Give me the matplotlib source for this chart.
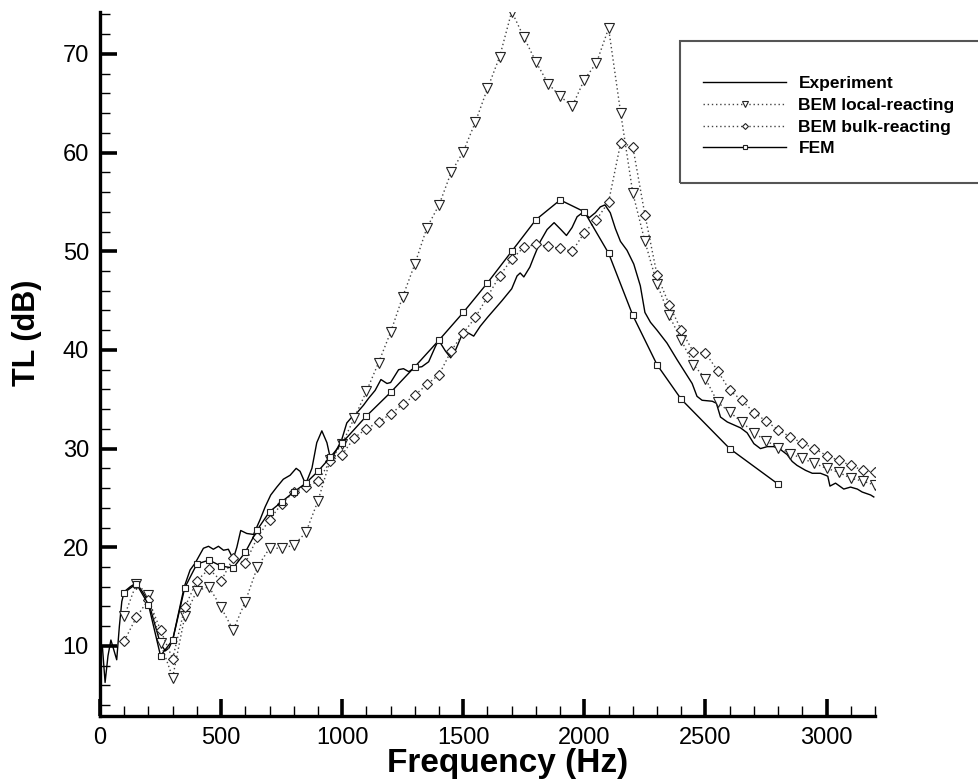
import matplotlib
matplotlib.use("Agg")
import matplotlib.pyplot as plt
from matplotlib.patches import Rectangle
from matplotlib.ticker import MultipleLocator

plt.rcParams['font.family'] = ['Liberation Sans', 'DejaVu Sans']

# measured curve (experiment)
f_exp = [10, 21, 33, 45, 57, 69, 80, 90, 100, 125, 150, 175, 200, 225, 250, 270, 285, 300,
         324, 348, 372, 393, 427, 448, 468, 489, 510, 530, 550, 565, 581, 606, 634, 661,
         682, 705, 730, 757, 785, 810, 826, 849, 875, 895, 916, 937, 953, 975, 998, 1019,
         1040, 1060, 1088, 1109, 1136, 1160, 1185, 1200, 1233, 1253, 1275, 1300, 1329,
         1357, 1384, 1398, 1426, 1448, 1470, 1494, 1522, 1543, 1570, 1600, 1632, 1660,
         1700, 1722, 1735, 1750, 1775, 1791, 1818, 1846, 1875, 1903, 1926, 1949, 1970,
         1997, 2020, 2045, 2066, 2085, 2107, 2128, 2149, 2176, 2204, 2231, 2250, 2273,
         2300, 2341, 2383, 2424, 2445, 2465, 2486, 2528, 2545, 2562, 2590, 2617, 2645,
         2672, 2700, 2727, 2755, 2782, 2810, 2837, 2858, 2878, 2913, 2941, 2975, 2996,
         3005, 3014, 3037, 3071, 3099, 3127, 3147, 3182, 3195]
tl_exp = [9.9, 6.3, 9.0, 10.6, 9.6, 8.6, 12.0, 14.5, 15.5, 16.0, 16.4, 15.5, 14.5, 12.3, 10.2,
          9.5, 9.8, 10.6, 13.3, 16.0, 17.7, 18.4, 19.9, 20.1, 19.8, 20.1, 19.7, 19.8, 18.8,
          20.0, 21.7, 21.4, 21.3, 22.8, 24.1, 25.3, 26.1, 26.9, 27.3, 28.0, 27.7, 26.4, 28.0,
          30.6, 31.8, 30.6, 28.8, 29.8, 30.9, 32.6, 33.2, 33.6, 34.4, 35.1, 35.9, 37.0, 36.6,
          36.7, 38.0, 38.1, 37.8, 38.2, 38.3, 38.8, 40.3, 41.0, 39.9, 39.2, 40.1, 41.5, 41.7,
          41.4, 42.4, 43.3, 44.2, 45.0, 46.2, 47.5, 47.8, 47.4, 48.4, 49.4, 51.0, 52.2, 52.9,
          52.2, 51.6, 52.4, 53.5, 54.0, 53.4, 53.9, 54.5, 54.7, 53.9, 52.3, 51.0, 50.1, 48.7,
          46.5, 43.8, 42.8, 42.0, 40.7, 39.0, 37.4, 36.6, 35.3, 34.9, 34.8, 34.6, 33.2, 32.7,
          32.4, 32.1, 31.6, 30.5, 30.0, 30.2, 30.2, 29.9, 29.4, 28.7, 28.3, 27.8, 27.5, 27.5,
          27.3, 27.2, 26.2, 26.5, 25.9, 26.1, 25.9, 25.6, 25.3, 25.1]

# BEM results, 50 Hz steps from 100 to 3200 Hz
f_bem = list(range(100, 3201, 50))
tl_local = [13.0, 16.3, 15.2, 10.3, 6.8, 13.0, 15.6, 16.0, 13.9, 11.6, 14.5, 18.0, 19.9, 19.9,
            20.2, 21.5, 24.7, 28.8, 30.5, 33.1, 35.8, 38.7, 41.8, 45.4, 48.7, 52.4, 54.7, 58.0,
            60.1, 63.1, 66.5, 69.7, 74.3, 71.7, 69.2, 67.0, 65.7, 64.7, 67.4, 69.1, 72.6, 64.0,
            55.9, 51.0, 46.7, 43.5, 41.0, 38.5, 37.1, 34.7, 33.7, 32.7, 31.6, 30.8, 30.1, 29.5,
            29.0, 28.5, 28.0, 27.6, 27.0, 26.7, 26.3]
tl_bulk = [10.5, 12.9, 14.7, 11.6, 8.7, 13.9, 16.6, 17.8, 16.6, 18.9, 18.4, 21.0, 22.8, 24.4,
           25.6, 26.1, 26.7, 28.7, 29.4, 31.1, 32.0, 32.7, 33.5, 34.5, 35.4, 36.5, 37.5, 39.9,
           41.7, 43.3, 45.4, 47.5, 49.2, 50.4, 50.7, 50.5, 50.3, 50.0, 51.9, 53.2, 55.0, 61.0,
           60.6, 53.7, 47.6, 44.6, 42.0, 39.8, 39.7, 37.9, 35.9, 34.9, 33.65, 32.8, 31.9, 31.2,
           30.55, 30.0, 29.3, 28.8, 28.3, 27.8, 27.6]

# FEM results
f_fem = [100, 150, 200, 250, 300, 350, 400, 450, 500, 550, 600, 650, 700, 750, 800, 850, 900,
         950, 1000, 1100, 1200, 1300, 1400, 1500, 1600, 1700, 1800, 1900, 2000, 2100, 2200,
         2300, 2400, 2600, 2800]
tl_fem = [15.4, 16.3, 14.2, 9.0, 10.6, 15.9, 18.3, 18.7, 18.1, 17.9, 19.5, 21.8, 23.6, 24.6,
          25.6, 26.5, 27.7, 29.1, 30.6, 33.3, 35.7, 38.3, 41.0, 43.8, 46.8, 50.0, 53.2, 55.2,
          54.0, 49.8, 43.5, 38.5, 35.0, 30.0, 26.4]

fig = plt.figure(figsize=(9.79, 7.83), dpi=100)
ax = fig.add_axes([100 / 979, 1 - 716 / 783, 775 / 979, 704 / 783])

dot = (0, (1, 2))
ax.plot(f_exp, tl_exp, '-', color='black', lw=1.0, label='Experiment')
ax.plot(f_bem, tl_local, linestyle=dot, color='#444444', lw=1.0, marker='v', ms=6.5,
        mfc='white', mec='#222222', mew=0.8, label='BEM local-reacting')
ax.plot(f_bem, tl_bulk, linestyle=dot, color='#444444', lw=1.0, marker='D', ms=5,
        mfc='white', mec='#222222', mew=0.8, label='BEM bulk-reacting')
ax.plot(f_fem, tl_fem, '-', color='black', lw=1.0, marker='s', ms=5,
        mfc='white', mec='#222222', mew=0.8, label='FEM')

ax.set_xlim(0, 3200)
ax.set_ylim(2.9, 74.25)
ax.xaxis.set_major_locator(MultipleLocator(500))
ax.xaxis.set_minor_locator(MultipleLocator(100))
ax.yaxis.set_major_locator(MultipleLocator(10))
ax.yaxis.set_minor_locator(MultipleLocator(2))
ax.set_yticks([10, 20, 30, 40, 50, 60, 70])

for s in ['top', 'right']:
    ax.spines[s].set_visible(False)
for s in ['left', 'bottom']:
    ax.spines[s].set_linewidth(2.4)

ax.tick_params(which='major', direction='in', length=12, width=2.6, labelsize=17, pad=8)
ax.tick_params(which='minor', direction='in', length=7, width=1.0)

ax.set_xlabel('Frequency (Hz)', fontsize=24, fontweight='bold')
ax.set_ylabel('TL (dB)', fontsize=22, fontweight='bold')
ax.xaxis.set_label_coords(0.526, -0.045, transform=ax.transAxes)
ax.xaxis.label.set_va('top')
ax.yaxis.set_label_coords(-0.075, 0.544, transform=ax.transAxes)

# legend box
fig.patches.append(Rectangle((680 / 979, 1 - 183 / 783), 310 / 979, 142 / 783,
                             transform=fig.transFigure, fill=False,
                             edgecolor='#555555', lw=1.5))
leg = ax.legend(loc='upper left', bbox_to_anchor=(703 / 979, 1 - 76 / 783),
                bbox_transform=fig.transFigure, frameon=False, markerscale=0.6,
                handlelength=4.8, handletextpad=0.7, labelspacing=0.38,
                borderpad=0, borderaxespad=0, prop={'weight': 'bold', 'size': 12.5})

fig.savefig('out.png', dpi=100)
